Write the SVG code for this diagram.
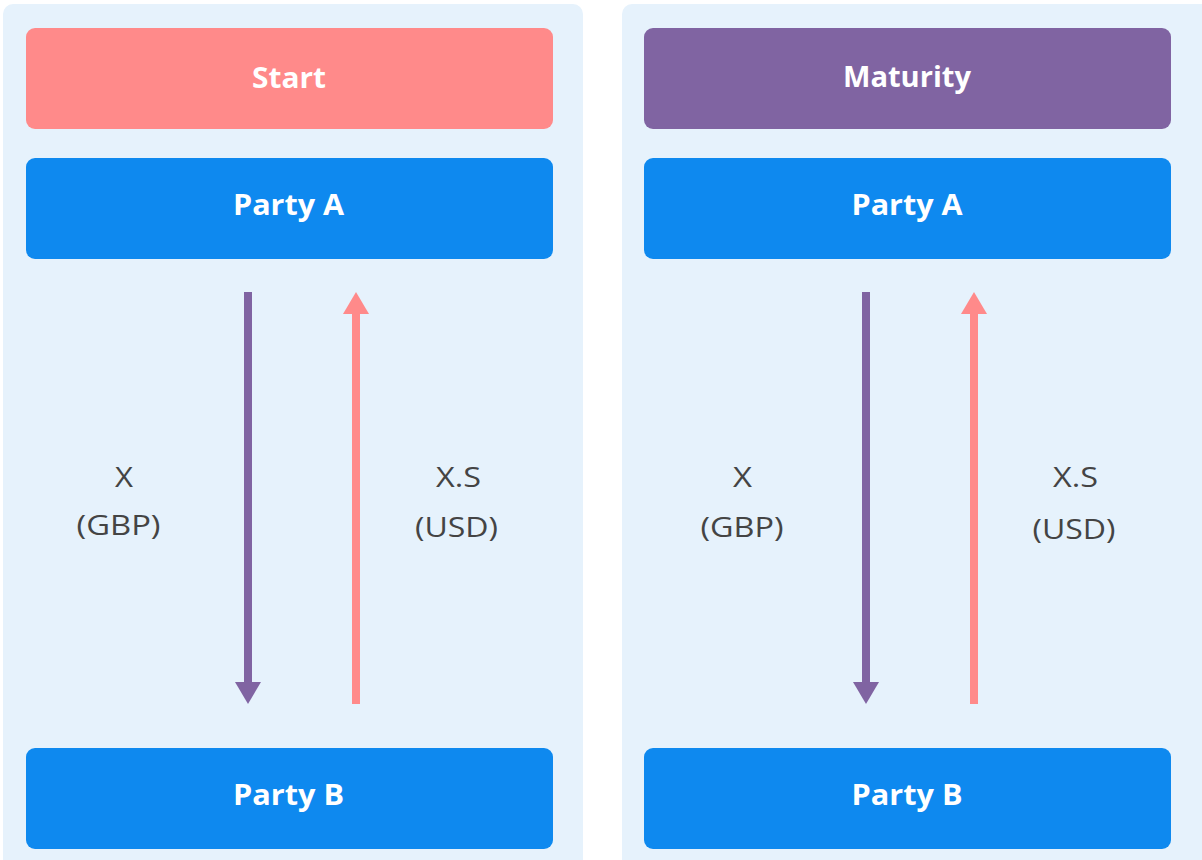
<svg xmlns="http://www.w3.org/2000/svg" width="1202" height="860" viewBox="0 0 1202 860">
<style>
.panel{fill:#e6f2fc}
.box{fill:#0e89ef}
.title{font-family:"Open Sans","Liberation Sans",sans-serif;font-weight:700;font-size:28px;fill:#ffffff;text-anchor:middle}
.lbl{font-family:"Open Sans","Liberation Sans",sans-serif;font-size:28px;fill:#444444;text-anchor:middle}
.pur{stroke:#8064a2;stroke-width:8;fill:none}
.pnk{stroke:#ff8a8a;stroke-width:8;fill:none}
</style>
<rect width="1202" height="860" fill="#ffffff"/>
<rect class="panel" x="3" y="4" width="580" height="870" rx="10"/>
<rect class="panel" x="622" y="4" width="590" height="870" rx="10"/>
<g id="start"><rect x="26" y="28" width="527" height="101" rx="9" fill="#ff8a8a"/><text class="title" x="289" y="88" textLength="74" lengthAdjust="spacingAndGlyphs">Start</text></g>
<g id="partyA1"><rect class="box" x="26" y="158" width="527" height="101" rx="9"/><text class="title" x="288.5" y="215" textLength="111" lengthAdjust="spacingAndGlyphs">Party A</text></g>
<g id="partyB1"><rect class="box" x="26" y="748" width="527" height="101" rx="9"/><text class="title" x="288.5" y="805" textLength="111" lengthAdjust="spacingAndGlyphs">Party B</text></g>
<g id="maturity"><rect x="644" y="28" width="527" height="101" rx="9" fill="#8064a2"/><text class="title" x="907" y="87" textLength="128" lengthAdjust="spacingAndGlyphs">Maturity</text></g>
<g id="partyA2"><rect class="box" x="644" y="158" width="527" height="101" rx="9"/><text class="title" x="907" y="215" textLength="111" lengthAdjust="spacingAndGlyphs">Party A</text></g>
<g id="partyB2"><rect class="box" x="644" y="748" width="527" height="101" rx="9"/><text class="title" x="907" y="805" textLength="111" lengthAdjust="spacingAndGlyphs">Party B</text></g>
<g id="connectors">
<line class="pur" x1="248" y1="292" x2="248" y2="684"/><polygon points="235,682 261,682 248,704" fill="#8064a2"/>
<line class="pnk" x1="356" y1="704" x2="356" y2="312"/><polygon points="343,314 369,314 356,292" fill="#ff8a8a"/>
<line class="pur" x1="866" y1="292" x2="866" y2="684"/><polygon points="853,682 879,682 866,704" fill="#8064a2"/>
<line class="pnk" x1="974" y1="704" x2="974" y2="312"/><polygon points="961,314 987,314 974,292" fill="#ff8a8a"/>
</g>
<g id="labels">
<text class="lbl" x="124" y="487" textLength="18" lengthAdjust="spacingAndGlyphs">X</text>
<text class="lbl" x="118.5" y="535" textLength="84" lengthAdjust="spacingAndGlyphs">(GBP)</text>
<text class="lbl" x="458.5" y="487" textLength="45" lengthAdjust="spacingAndGlyphs">X.S</text>
<text class="lbl" x="456.5" y="537" textLength="83" lengthAdjust="spacingAndGlyphs">(USD)</text>
<text class="lbl" x="742.5" y="487" textLength="19" lengthAdjust="spacingAndGlyphs">X</text>
<text class="lbl" x="742" y="537" textLength="83" lengthAdjust="spacingAndGlyphs">(GBP)</text>
<text class="lbl" x="1075.5" y="487" textLength="45" lengthAdjust="spacingAndGlyphs">X.S</text>
<text class="lbl" x="1074" y="539" textLength="83" lengthAdjust="spacingAndGlyphs">(USD)</text>
</g>
</svg>
